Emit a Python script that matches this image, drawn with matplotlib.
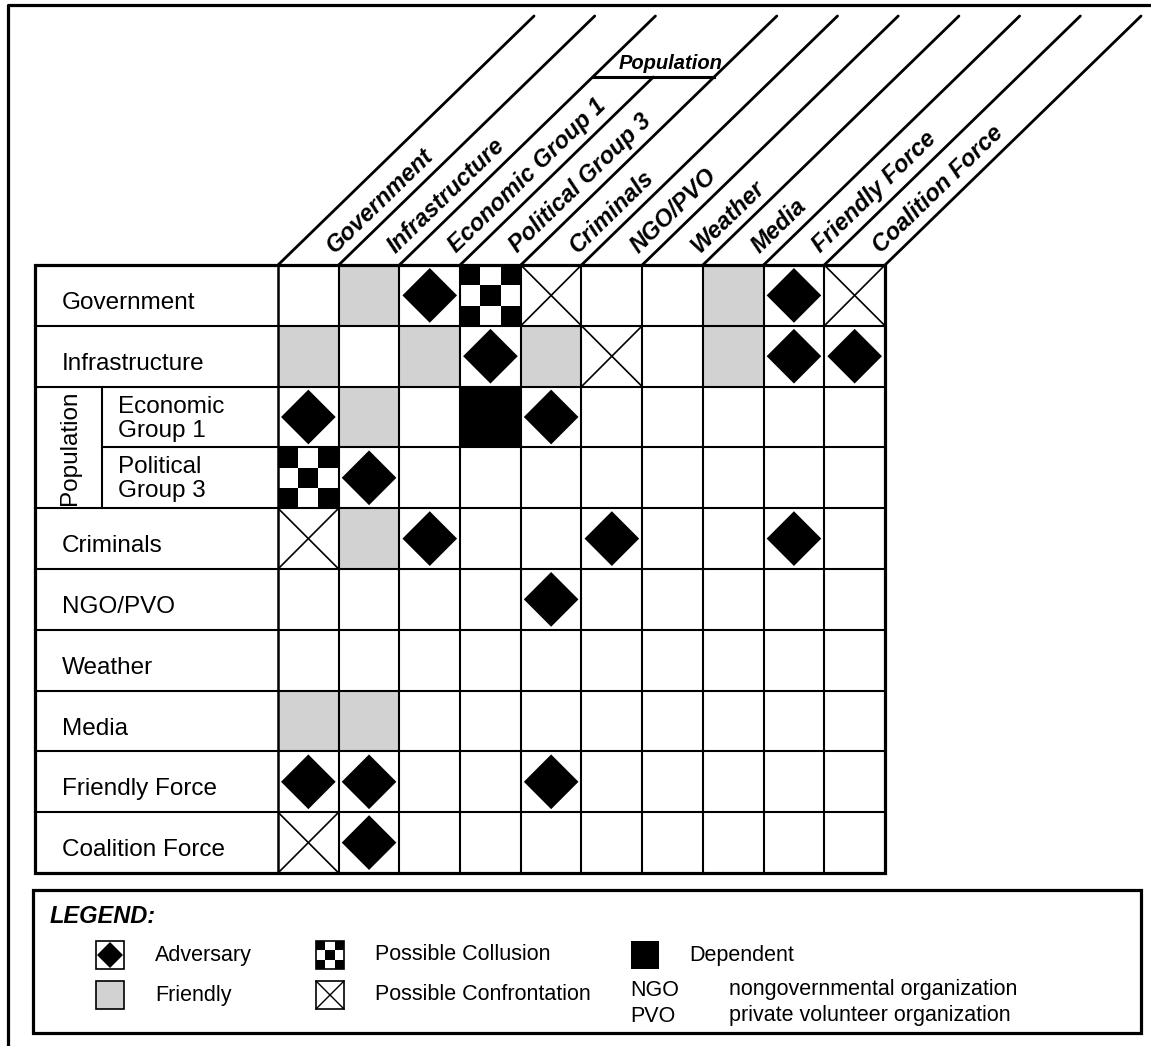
import math
import matplotlib
matplotlib.use("Agg")
import matplotlib.pyplot as plt
from matplotlib.patches import Rectangle, Polygon

plt.rcParams['font.family'] = ['Liberation Sans', 'DejaVu Sans']

# ---------------- data ----------------
row_labels = ["Government", "Infrastructure", "Economic\nGroup 1", "Political\nGroup 3",
              "Criminals", "NGO/PVO", "Weather", "Media", "Friendly Force", "Coalition Force"]
col_labels = ["Government", "Infrastructure", "Economic Group 1", "Political Group 3",
              "Criminals", "NGO/PVO", "Weather", "Media", "Friendly Force", "Coalition Force"]
group_label = "Population"
group_rows = [2, 3]
# codes: "" none, A adversary, F friendly, C possible collusion, X possible confrontation, D dependent
relations = [
    ["", "F", "A", "C", "X", "", "", "F", "A", "X"],
    ["F", "", "F", "A", "F", "X", "", "F", "A", "A"],
    ["A", "F", "", "D", "A", "", "", "", "", ""],
    ["C", "A", "", "", "", "", "", "", "", ""],
    ["X", "F", "A", "", "", "A", "", "", "A", ""],
    ["", "", "", "", "A", "", "", "", "", ""],
    ["", "", "", "", "", "", "", "", "", ""],
    ["F", "F", "", "", "", "", "", "", "", ""],
    ["A", "A", "", "", "A", "", "", "", "", ""],
    ["X", "A", "", "", "", "", "", "", "", ""],
]
legend_items = [("A", "Adversary"), ("F", "Friendly"), ("C", "Possible Collusion"),
                ("X", "Possible Confrontation"), ("D", "Dependent")]
abbreviations = [("NGO", "nongovernmental organization"), ("PVO", "private volunteer organization")]

# ---------------- layout ----------------
W, H = 1151, 1046
fig = plt.figure(figsize=(W / 100, H / 100), dpi=100)
ax = fig.add_axes([0, 0, 1, 1])
ax.set_xlim(0, W)
ax.set_ylim(H, 0)
ax.axis('off')

GRAY = '#d2d2d2'
GX0, GX1 = 35, 278
CW, RH = 60.7, 60.8
GY0 = 265
N = len(row_labels)
SUBX = 102
LW_IN, LW_OUT = 1.5, 2.3


def draw_symbol(code, x, y, w, h, lw_x=1.2):
    if code == "F":
        ax.add_patch(Rectangle((x, y), w, h, facecolor=GRAY, edgecolor='none', zorder=1))
    elif code == "D":
        ax.add_patch(Rectangle((x, y), w, h, facecolor='black', edgecolor='none', zorder=1))
    elif code == "C":
        for a in range(3):
            for b in range(3):
                if (a + b) % 2 == 0:
                    ax.add_patch(Rectangle((x + a * w / 3, y + b * h / 3), w / 3, h / 3,
                                           facecolor='black', edgecolor='none', zorder=1))
    elif code == "X":
        ax.plot([x, x + w], [y, y + h], color='black', lw=lw_x, zorder=2)
        ax.plot([x, x + w], [y + h, y], color='black', lw=lw_x, zorder=2)
    elif code == "A":
        cx, cy = x + w / 2, y + h / 2
        hw, hh = w * 0.45, h * 0.45
        ax.add_patch(Polygon([(cx, cy - hh), (cx + hw, cy), (cx, cy + hh), (cx - hw, cy)],
                             closed=True, facecolor='black', edgecolor='none', zorder=2))


# cells
for i, row in enumerate(relations):
    for j, code in enumerate(row):
        draw_symbol(code, GX1 + j * CW, GY0 + i * RH, CW, RH)

GX2 = GX1 + N * CW
GY1 = GY0 + N * RH
# horizontal grid lines
for i in range(1, N):
    xs = SUBX if i == group_rows[1] else GX0
    ax.plot([xs, GX2], [GY0 + i * RH, GY0 + i * RH], color='black', lw=LW_IN, zorder=3)
# vertical grid lines
for j in range(1, N):
    ax.plot([GX1 + j * CW] * 2, [GY0, GY1], color='black', lw=LW_IN, zorder=3)
ax.plot([GX1, GX1], [GY0, GY1], color='black', lw=LW_IN + 0.3, zorder=3)
ax.plot([SUBX, SUBX], [GY0 + group_rows[0] * RH, GY0 + (group_rows[1] + 1) * RH],
        color='black', lw=LW_IN, zorder=3)
ax.add_patch(Rectangle((GX0, GY0), GX2 - GX0, GY1 - GY0, fill=False, edgecolor='black',
                       lw=LW_OUT, zorder=4))

# row labels
fs_row = 17.5
for i, lab in enumerate(row_labels):
    top = GY0 + i * RH
    if i in group_rows:
        l1, l2 = lab.split("\n")
        ax.text(SUBX + 16, top + 26, l1, fontsize=fs_row, va='baseline', ha='left')
        ax.text(SUBX + 16, top + 50, l2, fontsize=fs_row, va='baseline', ha='left')
    else:
        ax.text(GX0 + 27, top + 44, lab, fontsize=fs_row, va='baseline', ha='left')
ax.text(70, GY0 + (group_rows[0] + 1) * RH, group_label, fontsize=fs_row, rotation=90,
        ha='center', va='center')

# diagonal header lines
DXDY = 255 / 248
ang = math.degrees(math.atan2(248, 255))
YTOP = 16
YPOP = 77
for k in range(N + 1):
    x0 = GX1 + k * CW
    yend = YPOP if k == 3 else YTOP
    ax.plot([x0, x0 + (GY0 - yend) * DXDY], [GY0, yend], color='black', lw=2.0,
            solid_capstyle='round', zorder=3)
# population bracket
xa = GX1 + 2 * CW + (GY0 - YPOP) * DXDY
xb = GX1 + 4 * CW + (GY0 - YPOP) * DXDY
ax.plot([xa, xb], [YPOP, YPOP], color='black', lw=2.2, zorder=3)
ax.text((xa + xb) / 2 + 17, YPOP - 8, group_label, fontsize=14.5, fontweight='bold',
        fontstyle='italic', ha='center', va='baseline')

# column labels
ca, sa = math.cos(math.radians(ang)), math.sin(math.radians(ang))
d0, p0 = 27, 4
for j, lab in enumerate(col_labels):
    bx = GX1 + (j + 0.5) * CW + d0 * ca + p0 * sa
    by = GY0 - d0 * sa + p0 * ca
    ax.text(bx, by, lab, fontsize=17, fontweight='bold', fontstyle='italic',
            rotation=ang, rotation_mode='anchor', ha='left', va='center')

# outer frame (left and top edges)
ax.plot([8, 8, W], [H, 5, 5], color='black', lw=2.3, zorder=5)

# legend
ax.add_patch(Rectangle((33, 890), 1141 - 33, 1033 - 890, fill=False, edgecolor='black',
                       lw=LW_OUT, zorder=4))
ax.text(50, 923, "LEGEND:", fontsize=17, fontweight='bold', fontstyle='italic',
        ha='left', va='baseline')
icon_pos = [(96, 941), (96, 981), (316, 941), (316, 981), (631, 941)]
text_x = [155, 155, 375, 375, 689]
IS = 28
for (code, name), (ix, iy), tx in zip(legend_items, icon_pos, text_x):
    if code == "A":
        ax.add_patch(Rectangle((ix, iy), IS, IS, facecolor='white', edgecolor='black', lw=1.2, zorder=1))
        cx, cy = ix + IS / 2, iy + IS / 2
        h = IS / 2 - 1
        ax.add_patch(Polygon([(cx, cy - h), (cx + h, cy), (cx, cy + h), (cx - h, cy)],
                             facecolor='black', edgecolor='none', zorder=2))
    else:
        draw_symbol(code, ix, iy, IS, IS, lw_x=1.0)
        if code != "D":
            ax.add_patch(Rectangle((ix, iy), IS, IS, fill=False, edgecolor='black', lw=1.2, zorder=3))
    ax.text(tx, iy + IS / 2, name, fontsize=15.5, ha='left', va='center')

for k, (abbr, desc) in enumerate(abbreviations):
    yy = 990 + k * 26
    ax.text(630, yy, abbr, fontsize=15.5, ha='left', va='center')
    ax.text(729, yy, desc, fontsize=15.5, ha='left', va='center')

fig.savefig("out.png", dpi=100)
